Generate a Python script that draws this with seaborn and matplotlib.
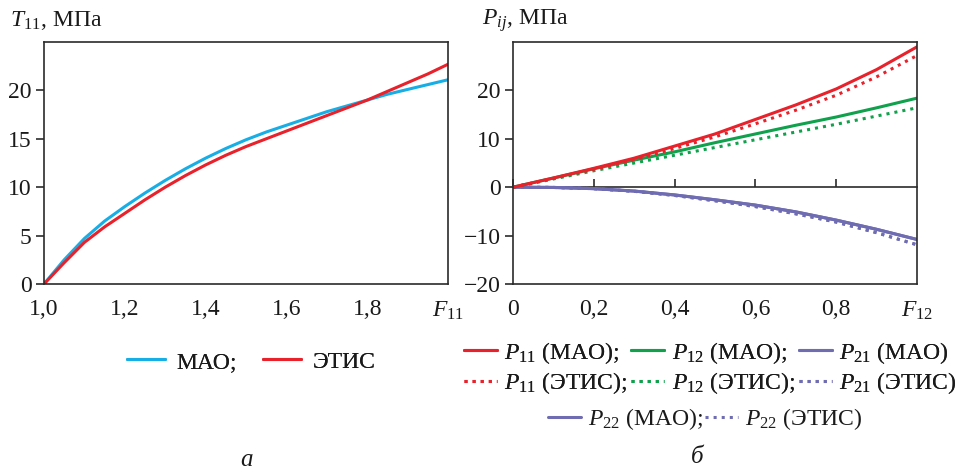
import matplotlib
matplotlib.use("Agg")
import matplotlib.pyplot as plt
from matplotlib.lines import Line2D
import seaborn as sns
import pandas as pd

# ---- data ----
F11 = [1.0, 1.05, 1.1, 1.15, 1.2, 1.25, 1.3, 1.35, 1.4, 1.45, 1.5, 1.55, 1.6, 1.65,
       1.7, 1.75, 1.8, 1.85, 1.9, 1.95, 2.0]
T11_MAO = [0, 2.5, 4.7, 6.5, 8.0, 9.4, 10.7, 11.9, 13.0, 14.0, 14.9, 15.7, 16.4, 17.1,
           17.8, 18.4, 19.0, 19.6, 20.1, 20.6, 21.1]
T11_ETIS = [0, 2.2, 4.3, 5.9, 7.3, 8.7, 10.0, 11.2, 12.3, 13.3, 14.2, 15.0, 15.8, 16.6,
            17.4, 18.2, 19.0, 19.9, 20.8, 21.7, 22.7]

F12 = [0, 0.1, 0.2, 0.3, 0.4, 0.5, 0.6, 0.7, 0.8, 0.9, 1.0]
P11_MAO = [0, 1.9, 3.9, 6.0, 8.5, 11.0, 14.0, 17.0, 20.3, 24.3, 29.0]
P11_ETIS = [0, 1.8, 3.7, 5.7, 8.0, 10.4, 13.1, 15.9, 19.0, 22.8, 27.2]
P12_MAO = [0, 1.9, 3.8, 5.6, 7.3, 9.2, 11.0, 12.8, 14.5, 16.4, 18.4]
P12_ETIS = [0, 1.7, 3.4, 5.0, 6.6, 8.2, 9.8, 11.4, 13.0, 14.7, 16.4]
P21_MAO = [0, -0.05, -0.3, -0.8, -1.6, -2.6, -3.7, -5.1, -6.8, -8.7, -10.8]
P21_ETIS = [0, -0.05, -0.3, -0.85, -1.7, -2.8, -4.0, -5.5, -7.2, -9.4, -11.9]
P22_MAO = [0, -0.05, -0.3, -0.8, -1.6, -2.6, -3.7, -5.1, -6.8, -8.7, -10.8]
P22_ETIS = [0, -0.05, -0.3, -0.85, -1.7, -2.8, -4.0, -5.5, -7.2, -9.4, -11.9]

xt_left = [1.0, 1.2, 1.4, 1.6, 1.8, 2.0]
xt_left_lbl = ["1,0", "1,2", "1,4", "1,6", "1,8", "$F_{11}$"]
yt_left = [0, 5, 10, 15, 20]
xt_right = [0, 0.2, 0.4, 0.6, 0.8, 1.0]
xt_right_lbl = ["0", "0,2", "0,4", "0,6", "0,8", "$F_{12}$"]
yt_right = [-20, -10, 0, 10, 20]
yt_right_lbl = ["\u221220", "\u221210", "0", "10", "20"]

C_BLUE = "#17aee6"
C_RED = "#e8212b"
C_GREEN = "#0fa14b"
C_PURPLE = "#6f6cb2"
C_TXT = "#1a1a1a"
C_AX = "#2b2b2b"

sns.set_theme(style="white")
plt.rcParams["font.family"] = ["Liberation Serif", "DejaVu Serif"]
plt.rcParams["mathtext.fontset"] = "custom"
plt.rcParams["mathtext.rm"] = "Liberation Serif"
plt.rcParams["mathtext.it"] = "Liberation Serif:italic"
plt.rcParams["mathtext.bf"] = "Liberation Serif:bold"
FS = 17

fig = plt.figure(figsize=(9.7, 4.72), dpi=100)
axL = fig.add_axes([44 / 970, 188 / 472, 404 / 970, 242 / 472])
axR = fig.add_axes([513 / 970, 188 / 472, 404 / 970, 242 / 472])

dfL = pd.DataFrame({"F": F11, "MAO": T11_MAO, "ETIS": T11_ETIS})
sns.lineplot(data=dfL, x="F", y="MAO", ax=axL, color=C_BLUE, lw=2.2)
sns.lineplot(data=dfL, x="F", y="ETIS", ax=axL, color=C_RED, lw=2.2)

dfR = pd.DataFrame({"F": F12, "P11M": P11_MAO, "P11E": P11_ETIS,
                    "P12M": P12_MAO, "P12E": P12_ETIS,
                    "P21M": P21_MAO, "P21E": P21_ETIS,
                    "P22M": P22_MAO, "P22E": P22_ETIS})
for col, c, ls in [("P21M", C_PURPLE, "-"), ("P21E", C_PURPLE, ":"),
                   ("P22M", C_PURPLE, "-"), ("P22E", C_PURPLE, ":"),
                   ("P12M", C_GREEN, "-"), ("P12E", C_GREEN, ":"),
                   ("P11M", C_RED, "-"), ("P11E", C_RED, ":")]:
    sns.lineplot(data=dfR, x="F", y=col, ax=axR, color=c, lw=2.2, linestyle=ls)

for ax in (axL, axR):
    ax.set_xlabel("")
    ax.set_ylabel("")
    for s in ax.spines.values():
        s.set_visible(True)
        s.set_color(C_AX)
        s.set_linewidth(1.2)
    ax.tick_params(axis="x", direction="in", length=6, width=1.2, color=C_AX,
                   pad=11, labelsize=FS, labelcolor=C_TXT)
    ax.tick_params(axis="y", direction="out", length=6, width=1.2, color=C_AX,
                   pad=3, labelsize=FS, labelcolor=C_TXT, left=True)

axL.set_xlim(1.0, 2.0)
axL.set_ylim(0, 25)
axL.set_xticks(xt_left)
axL.set_xticklabels(xt_left_lbl)
axL.set_yticks(yt_left)
axL.set_yticklabels([str(v) for v in yt_left])

axR.set_xlim(0, 1.0)
axR.set_ylim(-20, 30)
axR.set_xticks(xt_right)
axR.set_xticklabels(xt_right_lbl)
axR.set_yticks(yt_right)
axR.set_yticklabels(yt_right_lbl)

# zero line with upward ticks
ylo, yhi = axR.get_ylim()
sec = axR.secondary_xaxis((0 - ylo) / (yhi - ylo))
sec.set_xticks(xt_right[:-1])
sec.tick_params(axis="x", direction="in", length=6, width=1.2, color=C_AX,
                labelbottom=False, labeltop=False, bottom=True, top=False)
sec.spines["bottom"].set_color(C_AX)
sec.spines["bottom"].set_linewidth(1.2)
sec.xaxis.set_ticks_position("bottom")
sec.set_xticklabels([])

fig.text(10 / 970, 1 - 21 / 472, "$T_{11}$, МПа", fontsize=FS, ha="left", va="center",
         color=C_TXT)
fig.text(482 / 970, 1 - 21 / 472, "$P_{ij}$, МПа", fontsize=FS, ha="left", va="center",
         color=C_TXT)

def h(c, ls):
    return Line2D([], [], color=c, lw=2.2, linestyle=ls)

legL = fig.legend([h(C_BLUE, "-"), h(C_RED, "-")], ["МАО;", "ЭТИС"],
                  loc="center", bbox_to_anchor=(251 / 970, 1 - 362 / 472), ncol=2,
                  frameon=False, fontsize=FS, handlelength=1.6, handletextpad=0.5,
                  columnspacing=1.1, borderpad=0, borderaxespad=0)

handles6 = [h(C_RED, "-"), h(C_RED, ":"), h(C_GREEN, "-"), h(C_GREEN, ":"),
            h(C_PURPLE, "-"), h(C_PURPLE, ":")]
labels6 = ["$P_{11}$ (МАО);", "$P_{11}$ (ЭТИС);", "$P_{12}$ (МАО);", "$P_{12}$ (ЭТИС);",
           "$P_{21}$ (МАО)", "$P_{21}$ (ЭТИС)"]
legR = fig.legend(handles6, labels6, loc="center", bbox_to_anchor=(710 / 970, 1 - 368 / 472),
                  ncol=3, frameon=False, fontsize=FS, handlelength=1.4,
                  handletextpad=0.3, columnspacing=0.2, labelspacing=0.2,
                  borderpad=0, borderaxespad=0)
fig.add_artist(legL)
legR2 = fig.legend([h(C_PURPLE, "-"), h(C_PURPLE, ":")],
                   ["$P_{22}$ (МАО);", "$P_{22}$ (ЭТИС)"], loc="center",
                   bbox_to_anchor=(705 / 970, 1 - 419 / 472), ncol=2, frameon=False,
                   fontsize=FS, handlelength=1.4, handletextpad=0.3, columnspacing=0.1,
                   borderpad=0, borderaxespad=0)
fig.add_artist(legR)
for lg in (legL, legR, legR2):
    for t in lg.get_texts():
        t.set_color(C_TXT)

fig.text(247 / 970, 1 - 460 / 472, "а", fontsize=FS + 1, style="italic", ha="center",
         va="center", color=C_TXT)
fig.text(697 / 970, 1 - 457 / 472, "б", fontsize=FS + 1, style="italic", ha="center",
         va="center", color=C_TXT)

fig.savefig("out.png", dpi=100, facecolor="white")
